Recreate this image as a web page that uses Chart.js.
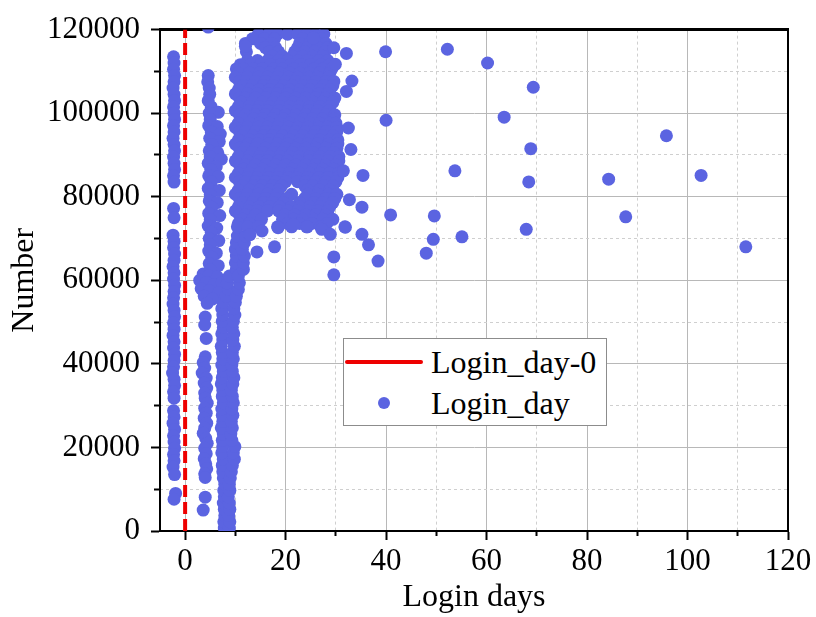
<!DOCTYPE html>
<html>
<head>
<meta charset="utf-8">
<title>Login days</title>
<script src="https://cdn.jsdelivr.net/npm/chart.js@4.4.1/dist/chart.umd.min.js"></script>
<style>
    html, body { margin: 0; padding: 0; background: #fff; }
    #wrap { position: relative; width: 816px; height: 617px; }
    #legend {
        position: absolute; left: 343px; top: 338px; width: 264px; height: 88px;
        box-sizing: border-box; border: 1px solid #8c8c8c; background: #fff;
        font-family: 'Liberation Serif', 'Times New Roman', serif; font-size: 32px; color: #000;
    }
    .legend-row { position: absolute; left: 0; width: 100%; height: 41px; line-height: 41px; }
    .legend-text { position: absolute; left: 87px; top: 0; white-space: nowrap; }
    .mark-line { position: absolute; left: 1px; top: 18px; width: 78px; height: 4px; border-radius: 2px; }
    .mark-dot { position: absolute; left: 34px; top: 14px; width: 12px; height: 12px; border-radius: 50%; }
</style>
</head>
<body>
<div id="wrap">
    <canvas id="loginChart" width="816" height="617"></canvas>
    <div id="legend"></div>
</div>
<script>
        // Ticks
        const majorX = [0, 20, 40, 60, 80, 100, 120];
        const minorX = [10, 30, 50, 70, 90, 110];
        const majorY = [0, 20000, 40000, 60000, 80000, 100000, 120000];
        const minorY = [10000, 30000, 50000, 70000, 90000, 110000];

        // Login_day-0 reference line
        const zeroDays = [0, 0];
        const zeroNumbers = [0, 120000];

        // Column left of the red line
        const col1Days = [
            -2.3, -2.2, -2.3, -2.1, -2.2, -2.4, -2.2, -2.1, -2.3, -2.2,
            -2.1, -2.3, -2.2, -2.4, -2.2, -2.1, -2.3, -2.2, -2.1, -2.3,
            -2.2, -2.3, -2.2, -2.4, -2.2, -2.3, -2.1, -2.2, -2.4, -2.2,
            -2.3, -2.1, -2.2, -2.3, -2.4, -2.2, -2.1, -2.3, -2.2, -2.4,
            -2.2, -2.3, -2.1, -2.2, -2.3, -2.5, -2.2, -2.1, -2.3, -2.2,
            -2.3, -2.2, -2.4, -2.1, -2.3, -2.2, -2.1, -2.3, -2.2, -2.4,
            -2.1, -1.9, -2.2
        ];
        const col1Numbers = [
            113500, 112000, 110500, 109000, 107500, 106000, 104500, 103000, 101500, 100000,
            98500, 97000, 95500, 94000, 92500, 91000, 89500, 88000, 86500, 85000,
            83500, 77200, 75000, 70800, 69300, 67800, 66300, 64800, 63300, 61800,
            60300, 58800, 57300, 55800, 54300, 52800, 51300, 49800, 48300, 46800,
            45300, 43800, 42300, 40800, 39300, 37800, 36300, 34800, 33300, 31800,
            28800, 27300, 25800, 24300, 22800, 21300, 19800, 18300, 16800, 15300,
            13500, 9000, 7600
        ];

        // Column around day 4-7
        const col2Days = [
            4.6, 4.6, 4.5, 4.8, 4.9, 4.6, 5.2, 6.6, 4.8, 5.0,
            4.7, 6.4, 5.2, 7.0, 4.9, 6.8, 5.3, 4.8, 6.5, 5.0,
            7.2, 4.6, 6.2, 5.1, 4.7, 6.6, 5.2, 4.6, 6.8, 5.0,
            4.8, 6.4, 5.3, 4.7, 6.9, 5.0, 4.6, 6.3, 5.2, 4.8,
            6.7, 5.0, 4.7, 6.2, 5.3, 4.8, 6.6, 5.0, 3.6, 4.6,
            6.4, 2.9, 4.2, 5.8, 7.4, 3.2, 4.8, 6.6, 3.8, 5.4,
            4.4, 4.0, 3.9, 4.2, 4.0, 3.6, 3.9, 3.4, 4.2, 3.8,
            4.3, 3.9, 4.0, 4.4, 3.9, 4.2, 3.8, 4.3, 3.9, 3.6,
            4.1, 4.4, 3.9, 4.2, 3.8, 4.1, 4.3, 3.9, 4.0, 4.0,
            3.6
        ];
        const col2Numbers = [
            120600, 109000, 107500, 106000, 104500, 103000, 101500, 100200, 100000, 98500,
            97000, 96800, 95500, 95000, 94000, 93200, 92500, 91000, 90500, 89500,
            89000, 88000, 87200, 86500, 85000, 84800, 83500, 82000, 81500, 80500,
            79000, 78600, 77500, 76000, 75500, 74500, 73000, 72500, 71500, 70000,
            69500, 68500, 67000, 66500, 65500, 64000, 63500, 62500, 61500, 61000,
            60800, 60000, 59500, 59000, 59500, 58000, 57500, 57000, 56200, 55500,
            54500, 51200, 49300, 46100, 41700, 40300, 39000, 37800, 36600, 35400,
            34200, 33000, 31800, 30600, 29400, 28200, 27000, 25800, 24600, 23400,
            22200, 21000, 19800, 18500, 17300, 16100, 14900, 13700, 12800, 8100,
            5000
        ];

        // Column around day 7-10 (two points per row)
        const col3Numbers = [
            700, 2200, 3700, 5200, 6700, 8200, 9700, 11200, 12700, 14200,
            15700, 17200, 18700, 20200, 21700, 23200, 24700, 26200, 27700, 29200,
            30700, 32200, 33700, 35200, 36700, 38200, 39700, 41200, 42700, 44200,
            45700, 47200, 48700, 50200, 51700, 53200, 54700
        ];
        const col3Left = [
            7.8, 7.7, 7.9, 7.8, 7.6, 7.8, 7.7, 7.9, 7.6, 7.5,
            7.4, 7.6, 7.3, 7.5, 7.4, 7.6, 7.2, 7.5, 7.4, 7.3,
            7.6, 7.4, 7.5, 7.2, 7.4, 7.6, 7.3, 7.5, 7.4, 7.2,
            7.5, 7.3, 7.6, 7.4, 7.5, 7.3, 7.6
        ];
        const col3Right = [
            8.8, 8.9, 8.7, 8.9, 8.8, 8.6, 8.9, 8.8, 9.0, 9.2,
            9.4, 9.8, 9.6, 9.9, 9.3, 9.1, 9.4, 9.2, 9.5, 9.3,
            9.6, 9.4, 9.2, 9.5, 9.7, 9.4, 9.3, 9.6, 9.4, 9.8,
            9.5, 9.7, 9.4, 9.6, 9.9, 9.7, 10.0
        ];

        // Link between the column and the main cloud
        const linkNumbers = [56200, 57800, 59400, 61000, 62600, 64200, 65800, 67400, 69000, 70600];
        const linkLeft = [8.2, 8.6, 8.4, 8.8, 10.2, 10.0, 10.2, 10.0, 10.2, 10.4];
        const linkRight = [10.2, 10.6, 10.8, 10.6, 11.6, 11.6, 11.8, 11.4, 11.8, 12.0];

        // Main cloud, one row of days per number
        const cloudNumbers = [
            118900, 117800, 116700, 115700, 114700, 113600, 112600, 111600, 110600, 109600,
            108600, 107600, 106600, 105600, 104600, 103600, 102600, 101600, 100600, 99600,
            98600, 97600, 96600, 95600, 94600, 93600, 92600, 91600, 90600, 89600,
            88600, 87600, 86600, 85600, 84600, 83600, 82600, 81600, 80600, 79600,
            78600, 77600, 76600, 75600, 74600, 73600, 72800
        ];
        const cloudDays = [
            [14.6, 16.6, 18.4, 20.4, 22.4, 24.2, 26.0, 27.6],
            [13.4, 15.8, 17.8, 23.4, 25.4, 27.2],
            [12.0, 15.0, 17.2, 22.8, 24.8, 26.8, 28.0],
            [16.0, 18.0, 22.4, 24.4, 26.4, 28.4],
            [12.2, 16.8, 18.6, 21.8, 23.8, 25.8, 27.8],
            [17.4, 19.4, 21.4, 23.4, 25.4, 27.4],
            [12.4, 14.4, 16.4, 18.6, 20.4, 22.6, 24.4, 26.6, 28.4],
            [11.0, 13.0, 15.0, 17.0, 19.0, 21.0, 23.0, 25.0, 27.0, 28.8],
            [10.2, 11.6, 13.6, 15.4, 17.6, 19.4, 21.6, 23.4, 25.6, 27.4, 29.2],
            [10.6, 12.8, 14.8, 16.8, 18.8, 20.8, 22.8, 24.8, 26.8, 28.8],
            [10.0, 12.4, 14.6, 16.4, 18.4, 20.6, 22.4, 24.6, 26.4, 28.6],
            [10.8, 12.0, 14.0, 16.0, 18.0, 20.0, 22.0, 24.0, 26.0, 28.0, 29.6],
            [11.6, 13.4, 15.6, 17.4, 19.6, 21.4, 23.6, 25.4, 27.6, 29.4],
            [10.6, 12.8, 14.8, 16.8, 18.8, 20.8, 22.8, 24.8, 26.8, 28.8],
            [10.0, 12.4, 14.4, 16.6, 18.4, 20.4, 22.6, 24.4, 26.6, 28.4],
            [10.8, 12.0, 14.0, 16.0, 18.0, 20.0, 22.0, 24.0, 26.0, 28.0, 29.8],
            [11.2, 13.4, 15.4, 17.6, 19.4, 21.6, 23.4, 25.6, 27.4, 29.4],
            [10.6, 12.8, 14.8, 16.8, 18.8, 20.8, 22.8, 24.8, 26.8, 28.8],
            [10.0, 12.6, 14.4, 16.4, 18.6, 20.4, 22.4, 24.6, 26.4, 28.6],
            [10.8, 12.0, 14.0, 16.0, 18.0, 20.0, 22.0, 24.0, 26.0, 28.0, 29.8],
            [11.4, 13.6, 15.4, 17.4, 19.6, 21.4, 23.6, 25.4, 27.4, 29.6],
            [10.6, 12.8, 14.8, 16.8, 18.8, 20.8, 22.8, 24.8, 26.8, 28.8, 30.0],
            [10.0, 12.4, 14.6, 16.4, 18.4, 20.6, 22.4, 24.4, 26.6, 28.4, 30.2],
            [10.8, 12.0, 14.0, 16.0, 18.0, 20.0, 22.0, 24.0, 26.0, 28.0, 30.2],
            [11.4, 13.4, 15.6, 17.4, 19.4, 21.6, 23.4, 25.6, 27.4, 29.4],
            [10.6, 12.8, 14.8, 16.8, 18.8, 20.8, 22.8, 24.8, 26.8, 28.8, 30.4],
            [10.0, 12.6, 14.4, 16.6, 18.4, 20.4, 22.6, 24.4, 26.4, 28.6, 30.4],
            [10.8, 12.0, 14.0, 16.0, 18.0, 20.0, 22.0, 24.0, 26.0, 28.0, 30.2],
            [11.4, 13.4, 15.4, 17.6, 19.4, 21.4, 23.6, 25.4, 27.6, 29.6],
            [10.6, 12.8, 14.8, 16.8, 18.8, 20.8, 22.8, 24.8, 26.8, 28.8, 30.6],
            [10.0, 12.4, 14.6, 16.4, 18.6, 20.4, 22.4, 24.6, 26.4, 28.4, 30.6],
            [10.8, 12.0, 14.0, 16.0, 18.0, 20.0, 22.0, 24.0, 26.0, 28.0, 30.0],
            [11.6, 13.4, 15.4, 17.4, 19.6, 21.4, 23.4, 25.6, 27.4, 29.6],
            [10.6, 12.8, 14.8, 16.8, 18.8, 20.8, 22.8, 24.8, 26.8, 28.8, 30.6],
            [10.0, 12.4, 14.4, 16.6, 18.4, 20.6, 22.4, 24.4, 26.6, 28.4, 30.4],
            [10.8, 12.0, 14.0, 16.0, 18.0, 20.0, 22.4, 24.0, 26.0, 28.0, 30.0],
            [11.4, 13.6, 15.4, 17.4, 19.2, 23.8, 25.4, 27.6, 29.4],
            [10.6, 12.8, 14.8, 16.8, 18.6, 24.4, 26.8, 28.8],
            [10.0, 12.4, 14.6, 16.4, 18.4, 21.2, 24.4, 26.4, 28.6, 30.2],
            [10.8, 12.0, 14.0, 16.0, 18.0, 20.2, 23.8, 26.0, 28.0, 29.8],
            [11.4, 13.4, 15.6, 17.4, 19.6, 22.8, 25.6, 27.4, 29.4],
            [10.6, 12.8, 14.8, 16.8, 18.8, 21.2, 22.8, 24.8, 26.8, 28.8],
            [10.0, 12.6, 14.4, 16.4, 18.6, 20.4, 22.4, 24.6, 26.4, 28.4],
            [10.8, 12.0, 14.0, 19.8, 21.8, 24.0, 26.0, 28.0],
            [11.4, 13.4, 15.2, 19.4, 21.6, 23.4, 25.6, 27.4, 29.4],
            [10.6, 12.8, 20.4, 22.8, 25.2, 28.2],
            [10.4, 12.4, 14.6, 18.4, 21.2, 24.2, 27.0]
        ];

        // Scattered points around the cloud and far to the right
        const outlierDays = [
            39.9, 52.2, 60.2, 69.3, 63.5, 40.0, 95.8, 68.8, 53.7, 102.7,
            84.3, 68.4, 87.7, 49.6, 40.9, 67.9, 55.1, 49.4, 111.6, 48.0,
            38.4, 29.6, 29.6, 36.5, 35.2, 31.9, 24.3, 35.2, 32.7, 35.4,
            31.5, 33.0, 32.5, 32.1, 33.2, 29.9, 32.1, 29.6, 25.5, 12.9,
            15.3, 18.5, 21.5, 27.2, 28.9, 31.8, 14.3, 17.8, 12.0
        ];
        const outlierNumbers = [
            114700, 115300, 112000, 106200, 99050, 98300, 94600, 91500, 86200, 85100,
            84200, 83550, 75200, 75400, 75650, 72200, 70400, 69800, 68000, 66500,
            64600, 61300, 65600, 68500, 71000, 72700, 72800, 77500, 79300, 85100,
            86200, 91300, 96450, 105200, 107700, 111700, 114300, 115650, 118000, 70900,
            71800, 72600, 73400, 72200, 71000, 72800, 66800, 68000, 116000
        ];

        const serif = "'Liberation Serif', 'Times New Roman', serif";
        const pointBlue = '#5b64e1';
        const lineRed = '#ee0000';

        function pairs(days, numbers) {
            return days.map((d, i) => ({ x: d, y: numbers[i] }));
        }

        function buildPoints() {
            let pts = [];
            pts = pts.concat(pairs(col1Days, col1Numbers));
            pts = pts.concat(pairs(col2Days, col2Numbers));
            pts = pts.concat(pairs(col3Left, col3Numbers), pairs(col3Right, col3Numbers));
            pts = pts.concat(pairs(linkLeft, linkNumbers), pairs(linkRight, linkNumbers));
            cloudDays.forEach((row, i) => {
                row.forEach(d => pts.push({ x: d, y: cloudNumbers[i] }));
            });
            pts = pts.concat(pairs(outlierDays, outlierNumbers));
            return pts;
        }

        // Legend in html, placed inside the plot
        function buildLegend(chart) {
            const box = document.getElementById('legend');
            chart.data.datasets.forEach((ds, i) => {
                const row = document.createElement('div');
                row.className = 'legend-row';
                row.style.top = (3 + i * 41) + 'px';
                const mark = document.createElement('span');
                if (ds.type === 'line') {
                    mark.className = 'mark-line';
                    mark.style.background = ds.borderColor;
                } else {
                    mark.className = 'mark-dot';
                    mark.style.background = ds.backgroundColor;
                }
                const text = document.createElement('span');
                text.className = 'legend-text';
                text.textContent = ds.label;
                row.appendChild(mark);
                row.appendChild(text);
                box.appendChild(row);
            });
        }

        // Helpers for scales that only draw minor grid or a frame edge
        function setTicks(list) {
            return scale => { scale.ticks = list.map(v => ({ value: v })); };
        }

        window.onload = function () {
            const ctx = document.getElementById('loginChart').getContext('2d');
            const chart = new Chart(ctx, {
                type: 'scatter',
                data: {
                    datasets: [{
                        type: 'line',
                        label: 'Login_day-0',
                        data: pairs(zeroDays, zeroNumbers),
                        borderColor: lineRed,
                        borderWidth: 4,
                        borderDash: [12, 5],
                        pointRadius: 0,
                        fill: false,
                        xAxisID: 'x',
                        yAxisID: 'y'
                    }, {
                        type: 'scatter',
                        label: 'Login_day',
                        data: buildPoints(),
                        backgroundColor: pointBlue,
                        borderWidth: 0,
                        pointRadius: 6.5,
                        pointHoverRadius: 6.5,
                        xAxisID: 'x',
                        yAxisID: 'y'
                    }]
                },
                options: {
                    responsive: false,
                    animation: false,
                    devicePixelRatio: 1,
                    layout: { padding: { top: 25, right: 28, bottom: 0, left: 0 } },
                    plugins: {
                        legend: { display: false },
                        tooltip: { enabled: false }
                    },
                    scales: {
                        x: {
                            type: 'linear',
                            position: 'bottom',
                            weight: 1,
                            min: -5,
                            max: 120,
                            afterBuildTicks: setTicks(majorX),
                            afterFit: scale => { scale.height = 86; },
                            ticks: {
                                font: { family: serif, size: 31 },
                                color: '#000',
                                padding: 3,
                                maxRotation: 0,
                                callback: v => String(v)
                            },
                            grid: { color: '#b8b8b8', lineWidth: 1, tickColor: '#000', tickLength: 9, tickWidth: 2 },
                            border: { color: '#000', width: 2 },
                            title: {
                                display: true,
                                text: 'Login days',
                                color: '#000',
                                font: { family: serif, size: 32 },
                                padding: { top: 0, bottom: 0 }
                            }
                        },
                        y: {
                            type: 'linear',
                            position: 'left',
                            weight: 1,
                            min: 0,
                            max: 120000,
                            afterBuildTicks: setTicks(majorY),
                            afterFit: scale => { scale.width = 160; },
                            ticks: {
                                font: { family: serif, size: 31 },
                                color: '#000',
                                padding: 11,
                                callback: v => String(v)
                            },
                            grid: { color: '#b8b8b8', lineWidth: 1, tickColor: '#000', tickLength: 9, tickWidth: 2 },
                            border: { color: '#000', width: 2 },
                            title: {
                                display: true,
                                text: 'Number',
                                color: '#000',
                                font: { family: serif, size: 32 },
                                padding: { top: 5, bottom: 0 }
                            }
                        },
                        xMinor: {
                            type: 'linear',
                            position: 'bottom',
                            weight: 0,
                            min: -5,
                            max: 120,
                            afterBuildTicks: setTicks(minorX),
                            afterFit: scale => { scale.height = 0; },
                            ticks: { display: false },
                            grid: { color: '#cfcfcf', lineWidth: 1, tickColor: '#000', tickLength: 5, tickWidth: 2 },
                            border: { display: false, dash: [3, 3] }
                        },
                        yMinor: {
                            type: 'linear',
                            position: 'left',
                            weight: 0,
                            min: 0,
                            max: 120000,
                            afterBuildTicks: setTicks(minorY),
                            afterFit: scale => { scale.width = 0; },
                            ticks: { display: false },
                            grid: { color: '#cfcfcf', lineWidth: 1, tickColor: '#000', tickLength: 6, tickWidth: 2 },
                            border: { display: false, dash: [3, 3] }
                        },
                        xTop: {
                            type: 'linear',
                            position: 'top',
                            min: -5,
                            max: 120,
                            afterFit: scale => { scale.height = 0; },
                            ticks: { display: false },
                            grid: { drawOnChartArea: false, drawTicks: false },
                            border: { color: '#000', width: 3 }
                        },
                        yRight: {
                            type: 'linear',
                            position: 'right',
                            min: 0,
                            max: 120000,
                            afterFit: scale => { scale.width = 0; },
                            ticks: { display: false },
                            grid: { drawOnChartArea: false, drawTicks: false },
                            border: { color: '#000', width: 2 }
                        }
                    }
                }
            });

            buildLegend(chart);
        };
</script>
</body>
</html>
